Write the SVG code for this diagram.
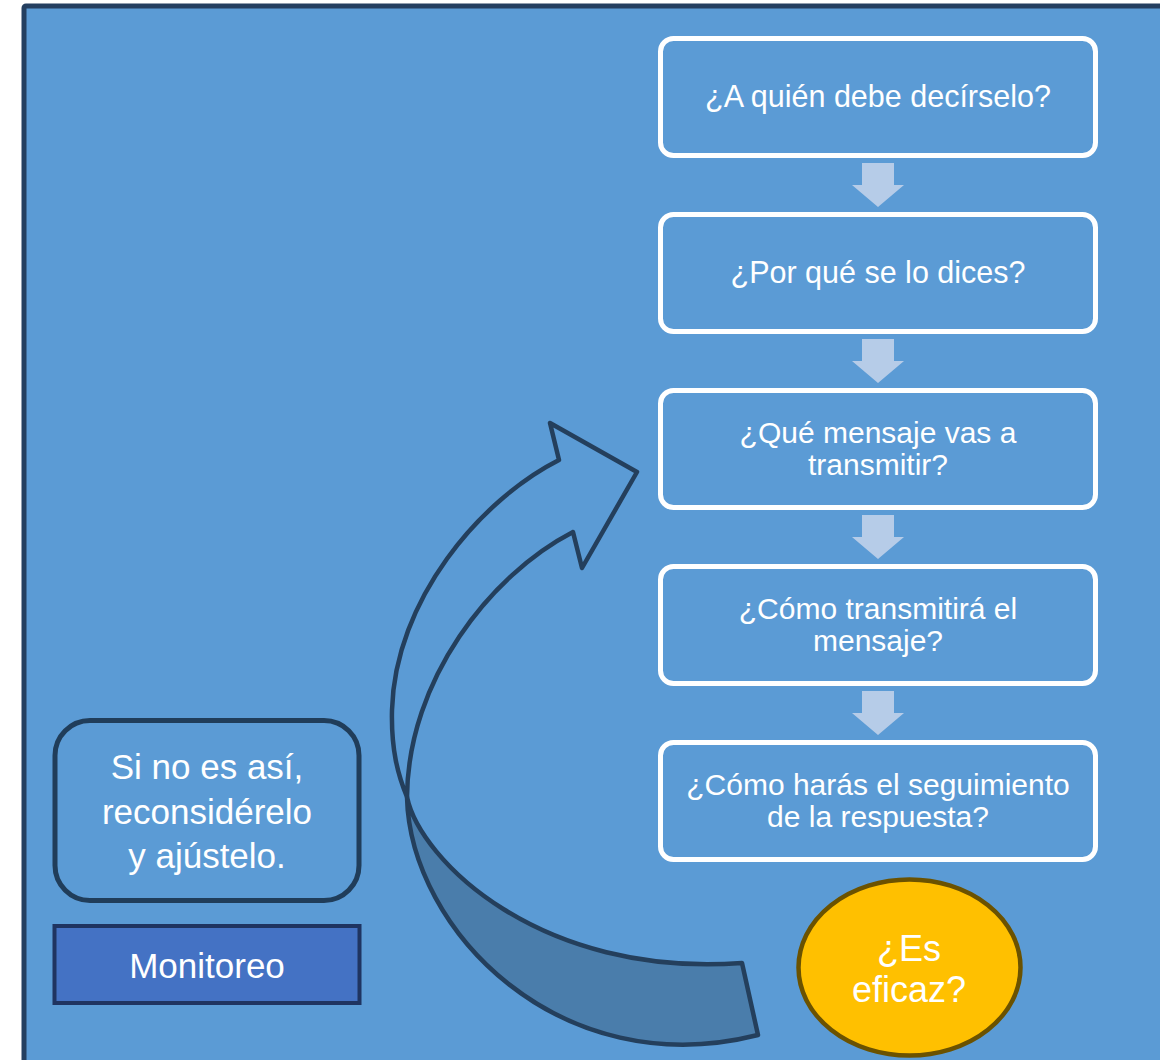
<svg xmlns="http://www.w3.org/2000/svg" width="1160" height="1060" viewBox="0 0 1160 1060">
<style>
.t{font-family:"Liberation Sans",Arial,sans-serif;fill:#FFFFFF;text-anchor:middle}
.step{fill:#5B9BD5;stroke:#FFFFFF;stroke-width:5}
.down{fill:#B6CCE8}
.curve{stroke:#243F5C;stroke-width:4.5;stroke-linejoin:round}
</style>
<rect x="24" y="6" width="1160" height="1080" rx="2" fill="#5B9BD5" stroke="#243F60" stroke-width="5"/>
<g id="connectors">
<polygon class="down" points="862,163 894,163 894,185 904,185 878,207 852,185 862,185"/>
<polygon class="down" points="862,339 894,339 894,361 904,361 878,383 852,361 862,361"/>
<polygon class="down" points="862,515 894,515 894,537 904,537 878,559 852,537 862,537"/>
<polygon class="down" points="862,691 894,691 894,713 904,713 878,735 852,713 862,713"/>
<g id="curved-arrow">
<path class="curve" fill="#4A7DAB" d="M407,797 C420,860 540,978 742,963 L758,1035 C560,1085 410,930 407,797 Z"/>
<path class="curve" fill="none" d="M407,797 C398,775 391,750 392,710 C395,600 480,500 559,460 L550,423 L637,472 L582,568 L573,532 C490,575 408,680 407,797 Z"/>
</g>
</g>
<g id="node-1"><rect class="step" x="660.5" y="38.5" width="435" height="117" rx="13"/><text class="t" x="878" y="107" font-size="30.5">¿A quién debe decírselo?</text></g>
<g id="node-2"><rect class="step" x="660.5" y="214.5" width="435" height="117" rx="13"/><text class="t" x="878" y="283" font-size="30.5">¿Por qué se lo dices?</text></g>
<g id="node-3"><rect class="step" x="660.5" y="390.5" width="435" height="117" rx="13"/><text class="t" x="878" y="442.5" font-size="30">¿Qué mensaje vas a</text><text class="t" x="878" y="474.5" font-size="30">transmitir?</text></g>
<g id="node-4"><rect class="step" x="660.5" y="566.5" width="435" height="117" rx="13"/><text class="t" x="878" y="618.5" font-size="30">¿Cómo transmitirá el</text><text class="t" x="878" y="650.5" font-size="30">mensaje?</text></g>
<g id="node-5"><rect class="step" x="660.5" y="742.5" width="435" height="117" rx="13"/><text class="t" x="878" y="794.5" font-size="30">¿Cómo harás el seguimiento</text><text class="t" x="878" y="826.5" font-size="30">de la respuesta?</text></g>
<g id="node-eficaz"><ellipse cx="909.5" cy="967.5" rx="111" ry="88" fill="#FFC000" stroke="#6B5200" stroke-width="4.5"/><text class="t" x="909" y="961" font-size="36">¿Es</text><text class="t" x="909" y="1002" font-size="36">eficaz?</text></g>
<g id="node-reconsider"><rect x="55" y="720.5" width="304" height="180" rx="35" fill="#5B9BD5" stroke="#203D5A" stroke-width="5"/><text class="t" x="207" y="779" font-size="35">Si no es así,</text><text class="t" x="207" y="823.5" font-size="35">reconsidérelo</text><text class="t" x="207" y="868" font-size="35">y ajústelo.</text></g>
<g id="node-monitoreo"><rect x="54.5" y="926" width="305" height="77" fill="#4472C4" stroke="#1F3461" stroke-width="4"/><text class="t" x="207" y="978" font-size="35">Monitoreo</text></g>
</svg>
